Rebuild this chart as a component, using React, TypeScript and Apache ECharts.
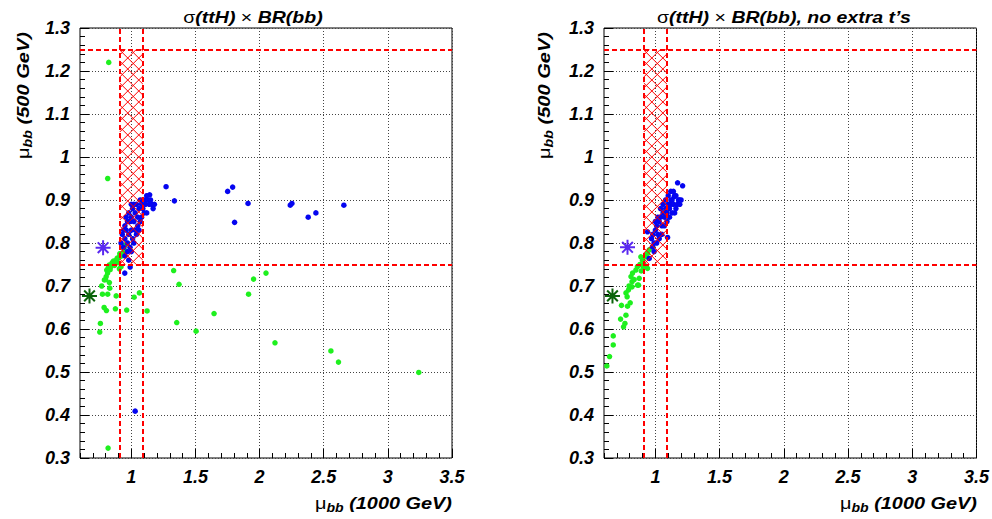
import React, { useEffect, useRef } from 'react';
import * as echarts from 'echarts';

const X_MIN = 0.6;
const X_MAX = 3.5;
const Y_MIN = 0.3;
const Y_MAX = 1.3;
const xMajorTicks = [1, 1.5, 2, 2.5, 3, 3.5];
const boxX = [0.91, 1.09];
const boxY = [0.75, 1.25];

const titles = ['σ(ttH) × BR(bb)', 'σ(ttH) × BR(bb), no extra t’s'];

const greenL: number[][] = [
  [0.824, 1.22], [0.816, 0.95], [2.05, 0.73], [1.953, 0.716], [1.914, 0.681], [1.645, 0.636],
  [2.12, 0.568], [2.556, 0.549], [2.615, 0.523], [3.241, 0.499], [1.33, 0.736], [1.372, 0.704],
  [1.123, 0.642], [1.063, 0.684], [1.022, 0.674], [0.964, 0.644], [0.876, 0.647], [0.806, 0.643],
  [0.788, 0.65], [0.775, 0.681], [0.816, 0.681], [0.882, 0.677], [0.769, 0.7], [0.832, 0.695],
  [0.829, 0.708], [0.79, 0.714], [0.759, 0.613], [0.754, 0.593], [1.354, 0.615], [1.505, 0.595],
  [0.819, 0.323],
  [0.804, 0.722], [0.808, 0.737], [0.829, 0.749], [0.85, 0.754], [0.882, 0.76], [0.907, 0.767],
  [0.933, 0.776], [0.946, 0.784], [0.92, 0.745], [0.907, 0.74], [0.815, 0.73], [0.84, 0.745],
  [0.86, 0.758], [0.87, 0.748], [0.895, 0.755], [0.925, 0.77], [0.94, 0.79], [0.95, 0.795],
  [0.8, 0.715], [0.82, 0.742], [0.835, 0.738], [0.89, 0.765], [0.91, 0.775],
];

const blueL: number[][] = [
  [1.751, 0.92], [1.79, 0.93], [1.91, 0.892], [1.805, 0.848], [2.239, 0.888], [2.252, 0.892],
  [2.379, 0.86], [2.439, 0.87], [2.657, 0.888], [1.271, 0.931], [1.336, 0.898], [1.143, 0.912],
  [0.949, 0.73], [0.991, 0.744], [1.03, 0.409],
  [0.93, 0.82], [0.92, 0.8], [0.94, 0.79], [0.95, 0.81], [0.96, 0.83], [0.95, 0.84], [0.97, 0.8],
  [0.98, 0.82], [0.99, 0.85], [0.97, 0.85], [0.96, 0.86], [0.98, 0.87], [1.0, 0.83], [1.0, 0.86],
  [1.01, 0.88], [1.02, 0.85], [1.03, 0.87], [1.04, 0.89], [1.02, 0.89], [1.05, 0.86], [1.06, 0.88],
  [1.07, 0.9], [1.08, 0.89], [1.09, 0.88], [1.1, 0.9], [1.11, 0.89], [1.12, 0.91], [1.13, 0.9],
  [1.14, 0.89], [1.15, 0.9], [1.16, 0.89], [1.17, 0.88], [1.18, 0.89], [1.1, 0.87], [1.12, 0.87],
  [1.08, 0.86], [1.05, 0.84], [1.03, 0.83], [1.01, 0.81], [0.99, 0.79], [0.97, 0.78], [0.95, 0.77],
  [0.98, 0.76], [1.0, 0.78], [1.02, 0.8], [1.04, 0.82], [1.06, 0.83], [1.07, 0.85], [0.94, 0.83],
  [1.0, 0.89],
];

const greenR: number[][] = [
  [0.622, 0.514], [0.643, 0.536], [0.672, 0.563], [0.672, 0.584], [0.752, 0.605], [0.763, 0.613],
  [0.729, 0.623], [0.771, 0.632], [0.736, 0.655], [0.783, 0.653], [0.804, 0.661], [0.771, 0.684],
  [0.791, 0.691], [0.818, 0.698], [0.869, 0.702], [0.818, 0.71], [0.81, 0.722], [0.822, 0.73],
  [0.848, 0.737], [0.861, 0.702], [0.874, 0.718], [0.9, 0.76], [0.927, 0.768], [0.939, 0.776],
  [0.913, 0.749], [0.939, 0.741], [0.952, 0.784], [0.978, 0.791], [0.887, 0.768], [0.835, 0.715],
  [0.86, 0.745], [0.88, 0.75], [0.795, 0.7], [0.78, 0.675], [0.89, 0.735], [0.905, 0.745],
];

const blueR: number[][] = [
  [1.173, 0.94], [1.212, 0.933], [1.147, 0.908], [1.186, 0.9], [1.122, 0.9], [1.095, 0.813],
  [0.939, 0.826], [0.952, 0.764], [0.978, 0.791],
  [0.97, 0.81], [0.98, 0.82], [0.99, 0.8], [1.0, 0.83], [1.01, 0.84], [1.02, 0.82], [1.03, 0.85],
  [1.04, 0.86], [1.05, 0.84], [1.06, 0.87], [1.07, 0.86], [1.08, 0.88], [1.09, 0.87], [1.1, 0.89],
  [1.11, 0.88], [1.12, 0.89], [1.13, 0.9], [1.14, 0.89], [1.15, 0.91], [1.16, 0.88], [1.17, 0.89],
  [1.18, 0.9], [1.19, 0.89], [1.2, 0.9], [1.15, 0.87], [1.13, 0.87], [1.11, 0.86], [1.09, 0.85],
  [1.07, 0.84], [1.05, 0.82], [1.03, 0.81], [1.01, 0.8], [0.99, 0.78], [1.0, 0.85], [1.02, 0.86],
  [1.04, 0.88], [1.06, 0.89], [1.08, 0.9], [1.1, 0.91], [1.12, 0.92], [1.14, 0.92], [1.16, 0.91],
];

const starPurpleL = [0.78, 0.789];
const starGreenL = [0.674, 0.677];
const starPurpleR = [0.783, 0.79];
const starGreenR = [0.666, 0.677];

const GREEN = '#1ef01e';
const BLUE = '#0505f0';
const PURPLE = '#5a28f0';
const DKGREEN = '#0a640a';
const RED = '#ff0000';
const FONT = 'Liberation Sans';

const STAR = 'path://M0 8L16 8M8 0L8 16M2.3 2.3L13.7 13.7M13.7 2.3L2.3 13.7';

const labelStyle = {
  fontFamily: FONT,
  fontWeight: 'bold' as const,
  fontStyle: 'italic' as const,
  fontSize: 18,
  color: '#000',
};

function hatchRender(params: any, api: any) {
  const tl = api.coord([api.value(0), api.value(3)]);
  const br = api.coord([api.value(2), api.value(1)]);
  const x0 = tl[0];
  const y0 = tl[1];
  const w = br[0] - tl[0];
  const h = br[1] - tl[1];
  const s = 11;
  const children: any[] = [];
  const st = { stroke: RED, lineWidth: 1 };
  for (let c = s / 2; c < w + h; c += s) {
    const xa = Math.max(0, c - h);
    const xb = Math.min(w, c);
    if (xb <= xa) continue;
    children.push({ type: 'line', shape: { x1: x0 + xa, y1: y0 + c - xa, x2: x0 + xb, y2: y0 + c - xb }, style: st });
  }
  for (let c = -h + s / 2; c < w; c += s) {
    const xa = Math.max(0, c);
    const xb = Math.min(w, c + h);
    if (xb <= xa) continue;
    children.push({ type: 'line', shape: { x1: x0 + xa, y1: y0 + xa - c, x2: x0 + xb, y2: y0 + xb - c }, style: st });
  }
  return { type: 'group', children };
}

export default function App() {
  const ref = useRef<HTMLDivElement>(null);
  useEffect(() => {
    if (!ref.current) return;
    const chart = echarts.init(ref.current, null, { renderer: 'svg' });
    const grids = [
      { left: 80, top: 28, width: 372, height: 430 },
      { left: 604, top: 28, width: 373, height: 430 },
    ].map((g) => ({ ...g, show: true, borderColor: '#000', borderWidth: 1, backgroundColor: 'transparent' }));

    const xAxis: any[] = [];
    const yAxis: any[] = [];
    [0, 1].forEach((gi) => {
      xAxis.push({
        type: 'value', gridIndex: gi, min: X_MIN, max: X_MAX, position: 'bottom',
        axisLine: { show: false },
        axisTick: { show: true, inside: true, length: 9, customValues: xMajorTicks, lineStyle: { color: '#000' } },
        axisLabel: { ...labelStyle, margin: 10, customValues: xMajorTicks },
        splitLine: { show: true, lineStyle: { color: '#444', type: [1, 2], width: 1 } },
      });
      xAxis.push({
        type: 'value', gridIndex: gi, min: X_MIN, max: X_MAX, interval: 0.1, position: 'bottom',
        axisLine: { show: false },
        axisTick: { show: true, inside: true, length: 5, lineStyle: { color: '#000' } },
        axisLabel: { show: false },
        splitLine: { show: false },
      });
      yAxis.push({
        type: 'value', gridIndex: gi, min: Y_MIN, max: Y_MAX, interval: 0.1,
        axisLine: { show: false },
        axisTick: { show: true, inside: true, length: 9, lineStyle: { color: '#000' } },
        minorTick: { show: true, splitNumber: 5, length: 5, lineStyle: { color: '#000' } },
        axisLabel: { ...labelStyle, margin: 10 },
        splitLine: { show: true, lineStyle: { color: '#444', type: [1, 2], width: 1 } },
      });
    });

    const panels = [
      { green: greenL, blue: blueL, sp: starPurpleL, sg: starGreenL },
      { green: greenR, blue: blueR, sp: starPurpleR, sg: starGreenR },
    ];
    const series: any[] = [];
    panels.forEach((p, i) => {
      const xi = i * 2;
      series.push({
        type: 'scatter', xAxisIndex: xi, yAxisIndex: i, data: p.green, symbol: 'circle', symbolSize: 5.5,
        itemStyle: { color: GREEN, opacity: 1 }, z: 2, silent: true,
      });
      series.push({
        type: 'scatter', xAxisIndex: xi, yAxisIndex: i, data: p.blue, symbol: 'circle', symbolSize: 5.5,
        itemStyle: { color: BLUE, opacity: 1 }, z: 3, silent: true,
      });
      series.push({
        type: 'custom', xAxisIndex: xi, yAxisIndex: i, renderItem: hatchRender, z: 4, silent: true,
        data: [[boxX[0], boxY[0], boxX[1], boxY[1]]], encode: { x: [0, 2], y: [1, 3] },
        markLine: {
          silent: true, symbol: 'none', label: { show: false },
          lineStyle: { color: RED, type: [5, 3], width: 2, opacity: 1 },
          data: [{ xAxis: boxX[0] }, { xAxis: boxX[1] }, { yAxis: boxY[0] }, { yAxis: boxY[1] }],
        },
      });
      series.push({
        type: 'scatter', xAxisIndex: xi, yAxisIndex: i, symbol: STAR, symbolSize: 15, z: 5, silent: true,
        data: [
          { value: p.sp, itemStyle: { color: 'rgba(0,0,0,0)', borderColor: PURPLE, borderWidth: 2, opacity: 1 } },
          { value: p.sg, itemStyle: { color: 'rgba(0,0,0,0)', borderColor: DKGREEN, borderWidth: 2, opacity: 1 } },
        ],
      });
    });

    const rich = {
      n: { fontFamily: FONT, fontSize: 17, fill: '#000' },
      b: { fontFamily: FONT, fontSize: 17, fontWeight: 'bold', fontStyle: 'italic', fill: '#000' },
      s: { fontFamily: FONT, fontSize: 12, fontWeight: 'bold', fontStyle: 'italic', fill: '#000', padding: [10, 0, 0, 0] },
    };
    const titleRich = {
      n: { fontFamily: FONT, fontSize: 16, fill: '#000' },
      b: { fontFamily: FONT, fontSize: 16, fontWeight: 'bold', fontStyle: 'italic', fill: '#000' },
    };
    const mkTitle = (t: string) => {
      const parts = t.split('×');
      const first = parts[0].replace('σ', '');
      return `{n|σ}{b|${first.trim()}}{n| × }{b|${parts[1].trim()}}`;
    };

    const graphic: any[] = [
      { type: 'text', x: 253, y: 18, scaleX: 1.22, silent: true, style: { text: mkTitle(titles[0]), rich: titleRich, align: 'center', verticalAlign: 'middle' } },
      { type: 'text', x: 784, y: 18, scaleX: 1.22, silent: true, style: { text: mkTitle(titles[1]), rich: titleRich, align: 'center', verticalAlign: 'middle' } },
      { type: 'text', x: 452, y: 503, scaleX: 1.17, silent: true, style: { text: '{n|μ}{s|bb}{b| (1000 GeV)}', rich, align: 'right', verticalAlign: 'middle' } },
      { type: 'text', x: 977, y: 503, scaleX: 1.17, silent: true, style: { text: '{n|μ}{s|bb}{b| (1000 GeV)}', rich, align: 'right', verticalAlign: 'middle' } },
      { type: 'text', x: 23, y: 32, rotation: Math.PI / 2, scaleX: 1.18, silent: true, style: { text: '{n|μ}{s|bb}{b| (500 GeV)}', rich, align: 'right', verticalAlign: 'middle' } },
      { type: 'text', x: 544, y: 32, rotation: Math.PI / 2, scaleX: 1.18, silent: true, style: { text: '{n|μ}{s|bb}{b| (500 GeV)}', rich, align: 'right', verticalAlign: 'middle' } },
    ];

    chart.setOption({
      animation: false,
      backgroundColor: '#fff',
      grid: grids,
      xAxis,
      yAxis,
      series,
      graphic,
    });
    return () => chart.dispose();
  }, []);
  return <div ref={ref} style={{ position: 'absolute', left: 0, top: 0, width: 992, height: 519 }} />;
}
